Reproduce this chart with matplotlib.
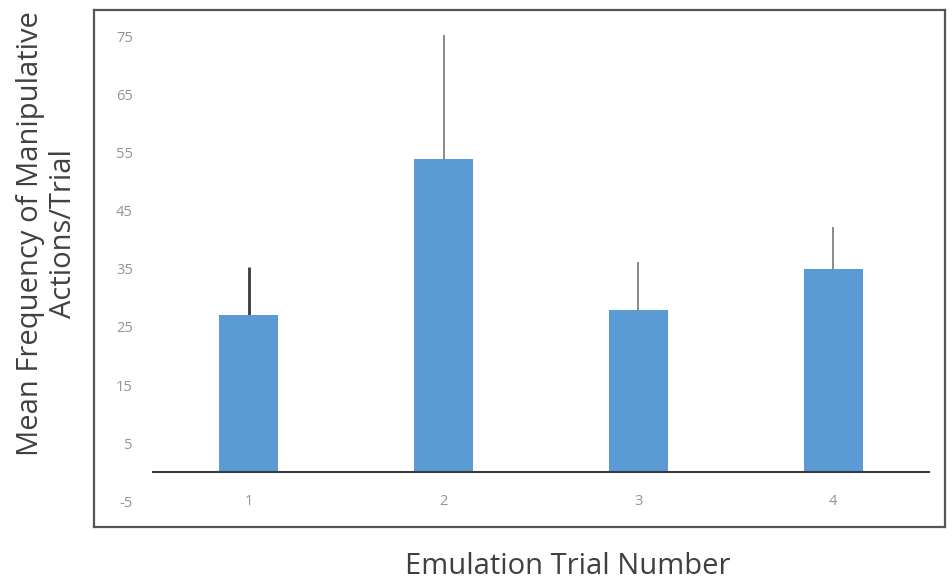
import matplotlib
matplotlib.use("Agg")
import matplotlib.pyplot as plt

trials = [1, 2, 3, 4]
trial_labels = ["1", "2", "3", "4"]
means = [27, 54, 28, 35]
errors_upper = [8.4, 21.3, 8.2, 7.3]
ytick_values = [-5, 5, 15, 25, 35, 45, 55, 65, 75]

fig = plt.figure(figsize=(9.52, 5.85), dpi=100)
ax = fig.add_axes([94/952, 1-527/585, 851/952, 517/585])

ax.bar(trials, means, width=0.303, color="#5B9BD5", zorder=2)
err_colors = ["#3a3a3a", "#8a8a8a", "#8a8a8a", "#8a8a8a"]
err_widths = [2.0, 1.4, 1.4, 1.4]
ax.vlines(trials, means, [m + e for m, e in zip(means, errors_upper)],
          colors=err_colors, linewidths=err_widths, zorder=1)
ax.hlines(0, 0.5, 4.5, colors="#3a3a3a", linewidth=1.5, zorder=3)

ax.set_xlim(0.204, 4.575)
ax.set_ylim(-9.45, 79.6)
ax.set_yticks(ytick_values)
ax.set_yticklabels([str(v) for v in ytick_values])
ax.set_xticks(trials)
ax.set_xticklabels(trial_labels)
ax.tick_params(axis="y", length=0, pad=-28, labelsize=10.5, labelcolor="#939393")
ax.tick_params(axis="x", length=0, pad=-24, labelsize=10.5, labelcolor="#939393")
for lab in ax.get_yticklabels() + ax.get_xticklabels():
    lab.set_family("Open Sans")

for s in ax.spines.values():
    s.set_color("#555555")
    s.set_linewidth(1.6)

fig.text(47/952, 1-234/585, "Mean Frequency of Manipulative\nActions/Trial",
         rotation=90, ha="center", va="center", fontsize=21,
         family="Open Sans", color="#404040", linespacing=1.15)
fig.text(568/952, 1-566/585, "Emulation Trial Number", ha="center", va="center",
         fontsize=21, family="Open Sans", color="#404040")

fig.savefig("out.png", dpi=100)
